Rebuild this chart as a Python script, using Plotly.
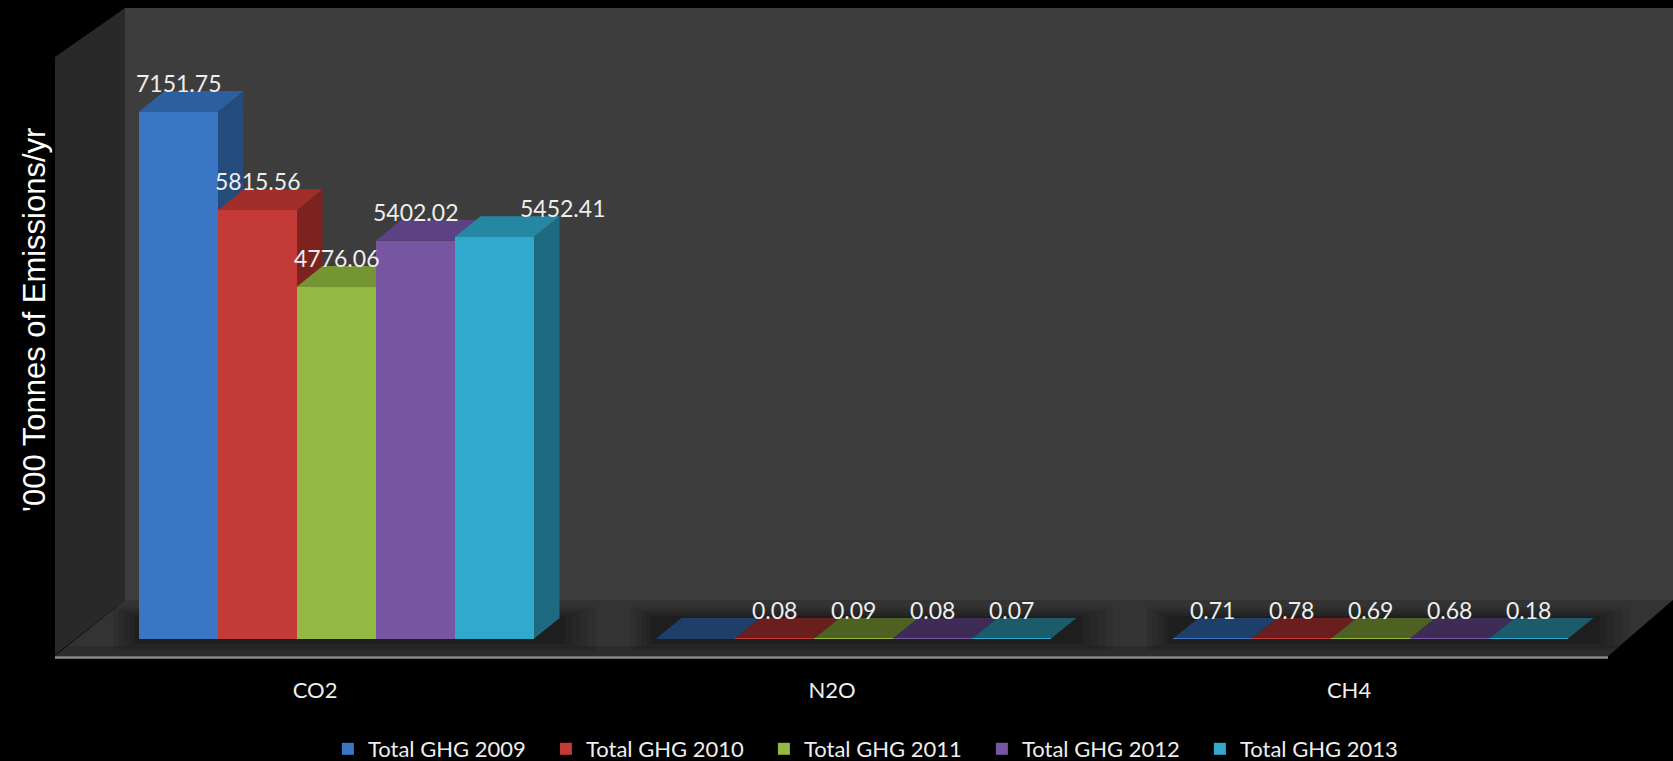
import plotly.graph_objects as go

# ---------------- data ----------------
categories = ["CO2", "N2O", "CH4"]
series_names = ["Total GHG 2009", "Total GHG 2010", "Total GHG 2011",
                "Total GHG 2012", "Total GHG 2013"]
ghg_2009 = [7151.75, None, 0.71]
ghg_2010 = [5815.56, 0.08, 0.78]
ghg_2011 = [4776.06, 0.09, 0.69]
ghg_2012 = [5402.02, 0.08, 0.68]
ghg_2013 = [5452.41, 0.07, 0.18]
series_values = [ghg_2009, ghg_2010, ghg_2011, ghg_2012, ghg_2013]

# ---------------- style ----------------
W, H = 1673, 761
MARGIN_B = 122
PLOT_H = H - MARGIN_B
Y_MAX = 8670
X_RANGE = [-0.650, 2.586]
BAR_W = 0.1528
DEPTH_X = 0.0503      # category units
DEPTH_Y = 285         # value units
FLAT_LIMIT = 0.002 * Y_MAX

front_col = ["#3a76c4", "#c33a36", "#94b943", "#7656a1", "#30a9cc"]
top_col = ["#2d5f9e", "#a02e2a", "#759533", "#5c4283", "#2687a3"]
side_col = ["#234b7c", "#7c2320", "#587024", "#45315f", "#1e6a80"]
flat_col = ["#1f3f6b", "#6a1e1e", "#4e6123", "#3e2c57", "#1c5b6b"]
LABEL_XSHIFT = {(0, 4): 68}
TXT = "#eeeeee"
FONT = "Lato"


def px(x):
    return x / W


def py(y):
    return (PLOT_H - y) / PLOT_H


def poly(points):
    s = "M " + " L ".join(f"{px(a):.5f},{py(b):.5f}" for a, b in points) + " Z"
    return s


fig = go.Figure()
shapes = []
annotations = []

# walls and floor (paper space)
shapes.append(dict(type="path", xref="paper", yref="paper", layer="below",
                   path=poly([(125, 8), (W, 8), (W, 600), (125, 600)]),
                   fillcolor="#3d3d3d", line=dict(width=0)))
shapes.append(dict(type="path", xref="paper", yref="paper", layer="below",
                   path=poly([(55, 57), (125, 8), (125, 600), (55, 655)]),
                   fillcolor="#292929", line=dict(width=0)))
shapes.append(dict(type="path", xref="paper", yref="paper", layer="below",
                   path=poly([(125, 600), (W, 600), (1608, 656), (55, 656)]),
                   fillcolor="#333333", line=dict(width=0)))
shapes.append(dict(type="path", xref="paper", yref="paper", layer="below",
                   path=poly([(55, 656), (68, 646), (1620, 646), (1608, 656)]),
                   fillcolor="#2c2c2c", line=dict(width=0)))
shapes.append(dict(type="line", xref="paper", yref="paper", layer="below",
                   x0=px(55), x1=px(1608), y0=py(657.5), y1=py(657.5),
                   line=dict(color="#8e8e8e", width=2.5)))

# soft shadows under each group
group_w = BAR_W * len(series_names)
for g in range(len(categories)):
    for pad, op in [(0.07, 0.07), (0.055, 0.08), (0.04, 0.09), (0.025, 0.1), (0.012, 0.12)]:
        shapes.append(dict(type="rect", xref="x", yref="paper", layer="below",
                           x0=g - group_w / 2 - pad * 0.7, x1=g + group_w / 2 + DEPTH_X + pad,
                           y0=py(642 + pad * 120), y1=py(618 - pad * 160),
                           fillcolor="black", opacity=op, line=dict(width=0)))

# bars: front faces as bar traces, top/side faces as shapes
for k, (name, vals) in enumerate(zip(series_names, series_values)):
    xs = [g + (k - 2) * BAR_W for g in range(len(categories))]
    fig.add_trace(go.Bar(
        x=xs, y=vals, width=BAR_W, name=name,
        marker=dict(color=front_col[k], line=dict(width=0)),
        hoverinfo="skip",
    ))
    for g, (xc, v) in enumerate(zip(xs, vals)):
        h = v if v is not None else 0
        xl, xr = xc - BAR_W / 2, xc + BAR_W / 2
        side = (f"M {xr},0 L {xr + DEPTH_X},{DEPTH_Y} L {xr + DEPTH_X},{h + DEPTH_Y} "
                f"L {xr},{h} Z")
        shapes.append(dict(type="path", xref="x", yref="y", layer="below",
                           path=side, fillcolor=side_col[k], line=dict(width=0)))
        top = (f"M {xl},{h} L {xr},{h} L {xr + DEPTH_X},{h + DEPTH_Y} "
               f"L {xl + DEPTH_X},{h + DEPTH_Y} Z")
        tc = flat_col[k] if h < FLAT_LIMIT else top_col[k]
        shapes.append(dict(type="path", xref="x", yref="y", layer="below",
                           path=top, fillcolor=tc, line=dict(width=0)))
        if v is not None:
            annotations.append(dict(
                x=xc, y=v, xref="x", yref="y", text=f"{v:.2f}", showarrow=False,
                yshift=29, xshift=LABEL_XSHIFT.get((g, k), 0),
                font=dict(family=FONT, size=23, color=TXT)))

annotations.append(dict(
    x=px(34), y=py(320), xref="paper", yref="paper", xanchor="center", yanchor="middle",
    text="'000 Tonnes of Emissions/yr", textangle=-90, showarrow=False,
    font=dict(family="Liberation Sans, Arial", size=31, color="#ffffff")))

fig.update_layout(
    width=W, height=H,
    margin=dict(l=0, r=0, t=0, b=MARGIN_B, autoexpand=False),
    paper_bgcolor="black", plot_bgcolor="rgba(0,0,0,0)",
    barmode="overlay", bargap=0,
    shapes=shapes, annotations=annotations,
    showlegend=True,
    legend=dict(orientation="h", x=0.196, xanchor="left", y=py(749), yanchor="middle",
                font=dict(family=FONT, size=22, color=TXT),
                entrywidth=173, entrywidthmode="pixels",
                bgcolor="rgba(0,0,0,0)", traceorder="normal"),
    xaxis=dict(range=X_RANGE, tickvals=list(range(len(categories))), ticktext=categories,
               showgrid=False, zeroline=False, showline=False, ticks="",
               ticklabelstandoff=36, ticklabelshift=-21, automargin=False,
               tickfont=dict(family=FONT, size=22, color=TXT), fixedrange=True),
    yaxis=dict(range=[0, Y_MAX], visible=False, fixedrange=True),
)

fig.write_html("out.html")
